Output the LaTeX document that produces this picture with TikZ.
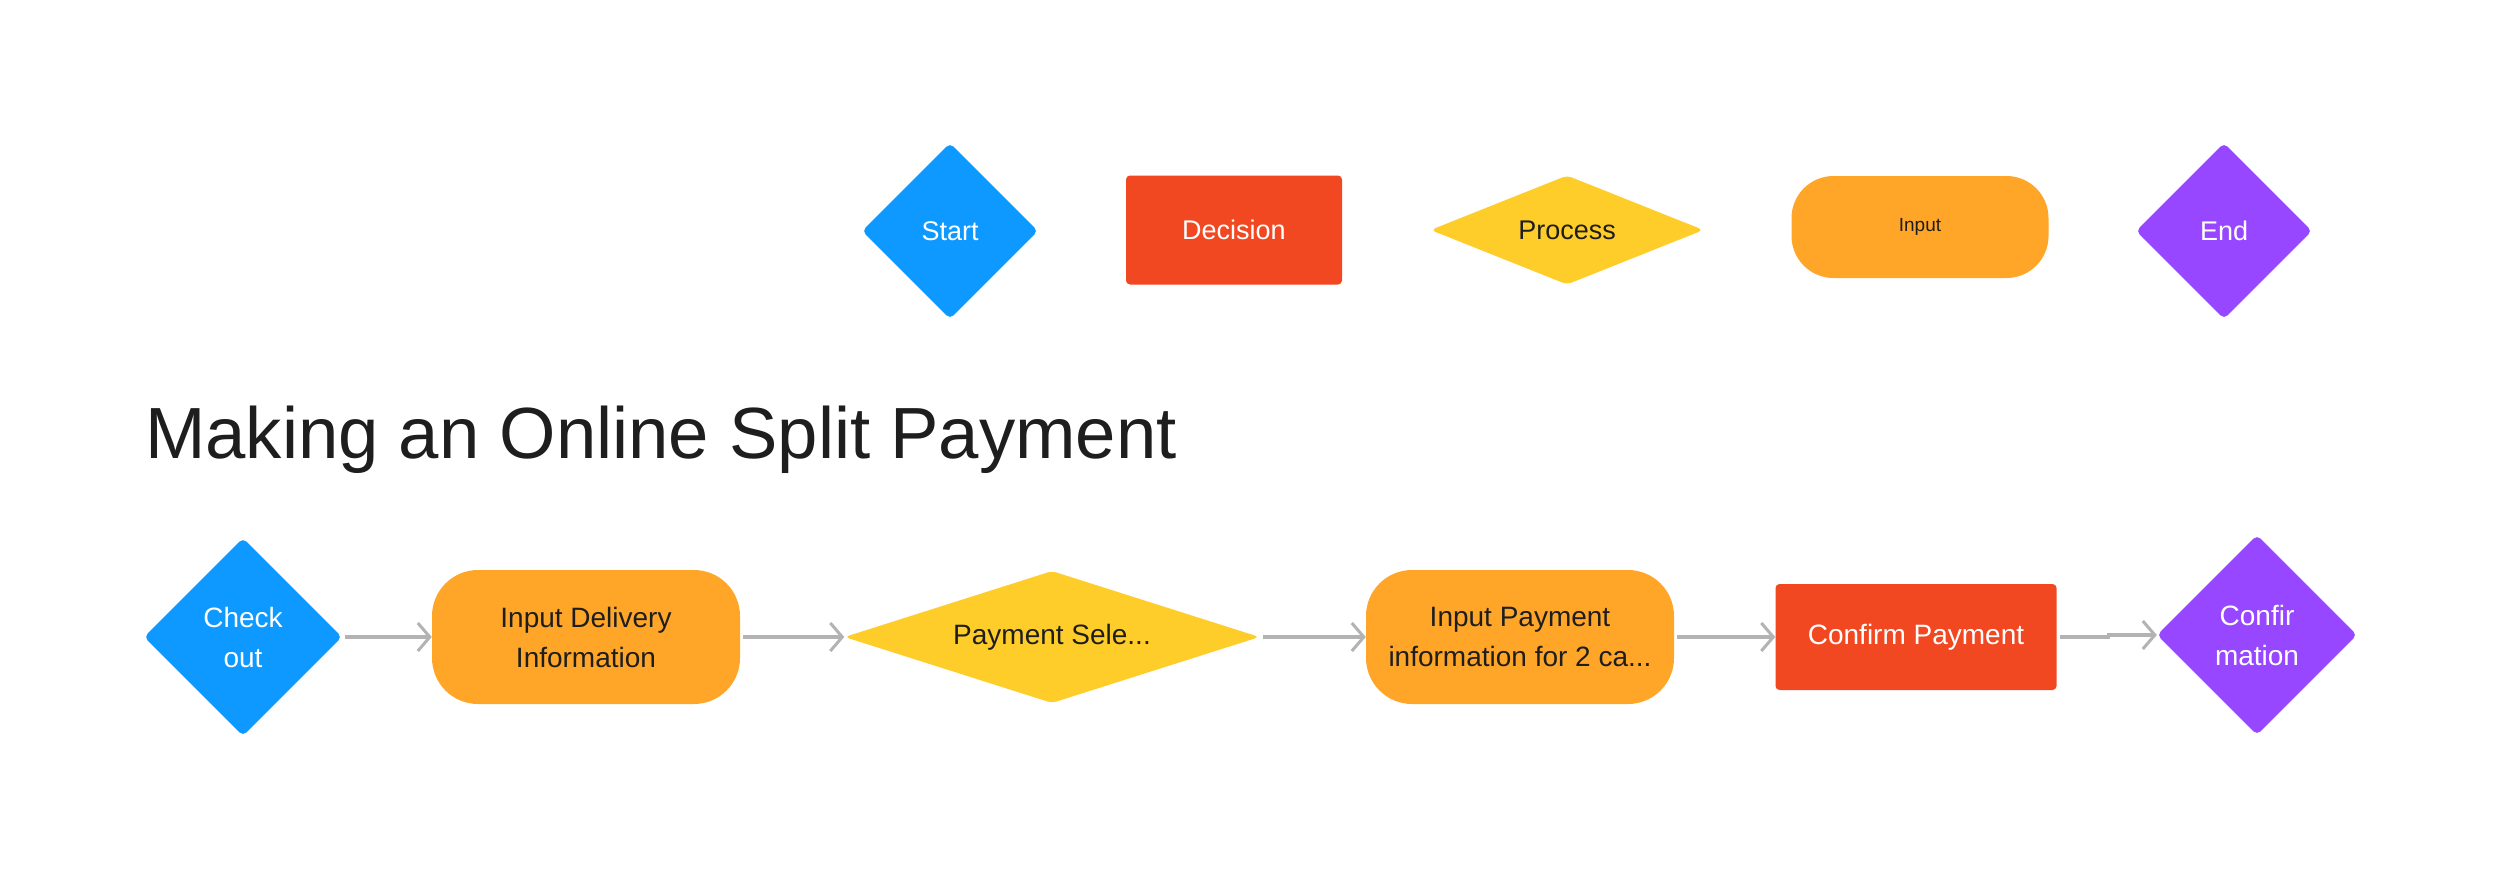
\documentclass[tikz,border=0pt]{standalone}
\usepackage{fontspec}
\setmainfont{Liberation Sans}
\usetikzlibrary{shapes.geometric,arrows.meta}
\definecolor{fjblue}{HTML}{0D99FF}
\definecolor{fjred}{HTML}{F24822}
\definecolor{fjyellow}{HTML}{FFCD29}
\definecolor{fjorange}{HTML}{FFA629}
\definecolor{fjpurple}{HTML}{9747FF}
\definecolor{fjtext}{HTML}{1E1E1E}
\definecolor{fjline}{HTML}{B3B3B3}
\tikzset{
  base/.style={inner sep=0pt, align=center, font=\fontsize{27}{40}\selectfont},
  sqdia/.style={base, diamond, aspect=1, rounded corners=5pt, minimum width=176pt, minimum height=176pt, text=white},
  flatdia/.style={base, diamond, rounded corners=5pt, text=fjtext, fill=fjyellow},
  rectbox/.style={base, rectangle, rounded corners=4pt, fill=fjred, text=white},
  pillbox/.style={base, rectangle, rounded corners=42pt, fill=fjorange, text=fjtext},
  conn/.style={draw=fjline, line width=3.5pt, shorten <=3pt, -{Straight Barb[length=12pt,width=28pt,line width=3pt]}},
  bot/.style={font=\fontsize{28}{40}\selectfont}
}
\begin{document}
\begin{tikzpicture}[x=1pt,y=-1pt]
\useasboundingbox[fill=white] (0,0) rectangle (2500,878);
% legend row
\node[sqdia, fill=fjblue] (start) at (950,231) {Start};
\node[rectbox, minimum width=216pt, minimum height=109pt] (decision) at (1234,230) {Decision};
\node[flatdia, minimum width=273pt, minimum height=109pt, aspect=2.5] (process) at (1567,230) {Process};
\node[pillbox, minimum width=257pt, minimum height=102pt, font=\fontsize{19}{24}\selectfont] (input) at (1920,227) {Input};
\node[sqdia, fill=fjpurple] (end) at (2224,231) {End};
% title
\node[anchor=base west, inner sep=0pt, text=fjtext, font=\fontsize{72.5}{88}\selectfont] (title) at (145,458) {Making an Online Split Payment};
% flow row
\node[sqdia, bot, fill=fjblue, minimum width=198pt, minimum height=198pt] (checkout) at (243,637) {Check\\out};
\node[pillbox, bot, minimum width=308pt, minimum height=134pt, rounded corners=46pt] (delivery) at (586,637) {Input Delivery\\Information};
\node[flatdia, bot, minimum width=415pt, minimum height=132pt, aspect=3.1] (select) at (1052,637) {Payment Sele...};
\node[pillbox, bot, minimum width=308pt, minimum height=134pt, rounded corners=46pt] (payinfo) at (1520,637) {Input Payment\\information for 2 ca...};
\node[rectbox, bot, minimum width=281pt, minimum height=106pt] (confirm) at (1916,637) {Confirm Payment};
\node[sqdia, bot, fill=fjpurple, minimum width=200pt, minimum height=200pt] (confirmation) at (2257,635) {Confir\\mation};
% connectors
\draw[conn] (checkout.east) -- (delivery.west);
\draw[conn] (delivery.east) -- (select.west);
\draw[conn] (select.east) -- (payinfo.west);
\draw[conn] (payinfo.east) -- (confirm.west);
\draw[conn] (confirm.east) -- ++(52,0) |- (confirmation.west);
\end{tikzpicture}
\end{document}
